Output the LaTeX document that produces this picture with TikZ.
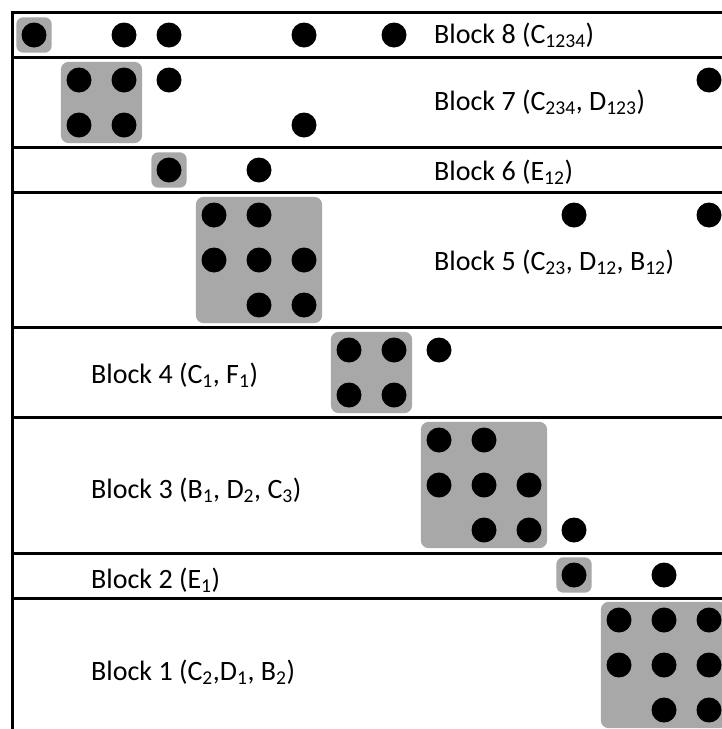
\documentclass[tikz,border=0pt]{standalone}
\usepackage{fontspec}
\setmainfont{Carlito}
\usetikzlibrary{fit,backgrounds}
\definecolor{boxgray}{RGB}{168,168,168}
\begin{document}
\begin{tikzpicture}[x=1pt,y=-1pt,
  rule/.style={line width=3pt,line cap=rect},
  dot/.style={circle,fill=black,inner sep=0pt,minimum size=25pt},
  grp/.style={fill=boxgray,rounded corners=8pt,inner sep=5.5pt},
  one/.style={fill=boxgray,rounded corners=7pt,inner sep=5pt},
  lbl/.style={anchor=base west,inner sep=0pt,font=\fontsize{28}{33}\selectfont}]
\useasboundingbox (0,0) rectangle (722,729);
\clip (0,0) rectangle (722,729);

% dots: row / columns on a 45pt grid
\foreach \r/\cols in {0/{0,2,3,6,8},1/{1,2,3,15},2/{1,2,6},3/{3,5},
    4/{4,5,12,15},5/{4,5,6},6/{5,6},7/{7,8,9},8/{7,8},9/{9,10},
    10/{9,10,11},11/{10,11,12},12/{12,14},13/{13,14,15},
    14/{13,14,15},15/{14,15}}
  \foreach \c in \cols
    \node[dot] (d-\r-\c) at (34+45*\c,35+45*\r) {};

% shaded groups behind the dots
\begin{scope}[on background layer]
  \node[one,fit=(d-0-0)] (g8) {};
  \node[grp,fit=(d-1-1)(d-2-2)] (g7) {};
  \node[one,fit=(d-3-3)] (g6) {};
  \node[grp,fit=(d-4-4)(d-6-6)] (g5) {};
  \node[grp,fit=(d-7-7)(d-8-8)] (g4) {};
  \node[grp,fit=(d-9-9)(d-11-11)] (g3) {};
  \node[one,fit=(d-12-12)] (g2) {};
  \node[grp,fit=(d-13-13)(d-15-15)] (g1) {};
\end{scope}

% frame: left rule and block separators
\coordinate (bl) at (12,729);
\coordinate (tl) at (12,12);
\draw[rule] (bl) -- (tl);
\foreach \y [count=\i] in {12,57,147,192,327,417,553,598} {
  \coordinate (l\i) at (12,\y);
  \coordinate (r\i) at (724,\y);
  \draw[rule] (l\i) -- (r\i);
}

% block labels
\node[lbl] (t8) at (434,43) {Block 8 (C\textsubscript{1234})};
\node[lbl] (t7) at (434,110) {Block 7 (C\textsubscript{234}, D\textsubscript{123})};
\node[lbl] (t6) at (434,180) {Block 6 (E\textsubscript{12})};
\node[lbl] (t5) at (434,270) {Block 5 (C\textsubscript{23}, D\textsubscript{12}, B\textsubscript{12})};
\node[lbl] (t4) at (91,383) {Block 4 (C\textsubscript{1}, F\textsubscript{1})};
\node[lbl] (t3) at (91,498) {Block 3 (B\textsubscript{1}, D\textsubscript{2}, C\textsubscript{3})};
\node[lbl] (t2) at (91,588) {Block 2 (E\textsubscript{1})};
\node[lbl] (t1) at (91,680) {Block 1 (C\textsubscript{2},D\textsubscript{1}, B\textsubscript{2})};
\end{tikzpicture}
\end{document}
